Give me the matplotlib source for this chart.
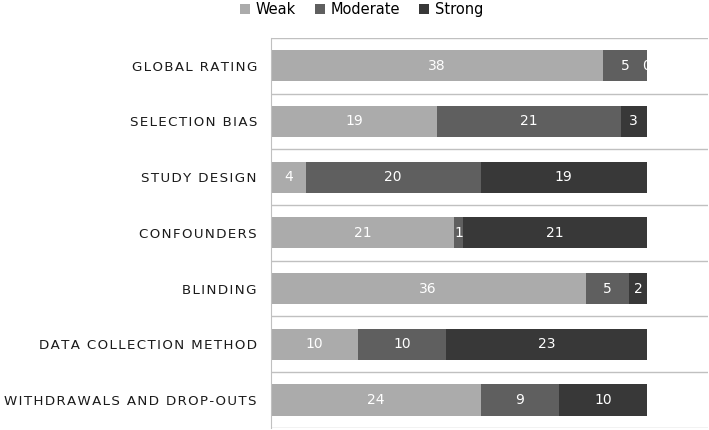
import numpy as np
import matplotlib.pyplot as plt
from matplotlib.patches import Rectangle

categories = ["GLOBAL RATING", "SELECTION BIAS", "STUDY DESIGN", "CONFOUNDERS",
              "BLINDING", "DATA COLLECTION METHOD", "WITHDRAWALS AND DROP-OUTS"]
weak = [38, 19, 4, 21, 36, 10, 24]
moderate = [5, 21, 20, 1, 5, 10, 9]
strong = [0, 3, 19, 21, 2, 23, 10]

series = [("Weak", weak, "#ababab"), ("Moderate", moderate, "#5f5f5f"), ("Strong", strong, "#383838")]


def spaced(s):
    # fake letter spacing with hair spaces
    return "\u200a".join(list(s))


fig = plt.figure(figsize=(7.09, 4.30), dpi=100)
ax = fig.add_axes([0.382, 0.005, 0.6166, 0.907])

y = np.arange(len(categories))
total = np.array(weak) + np.array(moderate) + np.array(strong)
clip = Rectangle((0, -1), total.max(), len(categories) + 1, transform=ax.transData)

left = np.zeros(len(categories))
for name, vals, col in series:
    vals = np.array(vals)
    ax.barh(y, vals, left=left, height=0.56, color=col, label=name)
    for yi, (l, v) in enumerate(zip(left, vals)):
        t = ax.text(l + v / 2, yi, str(v), ha="center", va="center", color="white", fontsize=10)
        t.set_clip_path(clip)
    left = left + vals

ax.set_xlim(0, 50)
ax.set_ylim(len(categories) - 0.5, -0.5)
for b in np.arange(-0.5, len(categories), 1.0):
    ax.axhline(b, color="#c0c0c0", lw=1, zorder=0)

ax.set_xticks([])
ax.set_yticks(y)
ax.set_yticklabels([spaced(c) for c in categories], fontsize=9.6, color="#1a1a1a")
ax.tick_params(axis="y", length=0, pad=10)
for s in ["top", "right", "bottom"]:
    ax.spines[s].set_visible(False)
ax.spines["left"].set_color("#c0c0c0")

fig.legend(loc="upper center", bbox_to_anchor=(0.51, 1.025), ncol=3, frameon=False,
           fontsize=10.5, handlelength=0.7, handleheight=0.7, handletextpad=0.4, columnspacing=1.3)

fig.savefig("out.png", dpi=100)
plt.close()
